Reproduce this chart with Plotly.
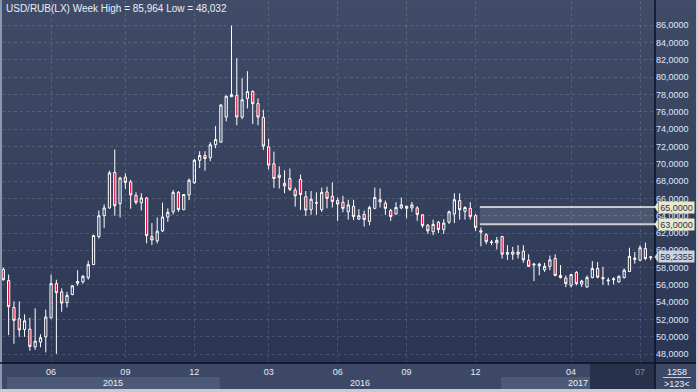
import plotly.graph_objects as go

# ---------------- data (weekly USD/RUB candles) ----------------
opens = [
    57.8, 56.5, 53.4, 52.1, 50.85, 50.9, 48.85, 49.4, 50.0, 52.2,
    56.15, 55.2, 53.95, 54.9, 56.2, 56.35, 56.85, 58.35, 61.6, 64.0,
    64.9, 69.0, 65.4, 68.45, 67.9, 66.35, 65.5, 66.05, 61.6, 61.1,
    62.25, 63.85, 64.45, 66.7, 64.7, 66.4, 67.8, 70.4, 70.95, 70.7,
    72.2, 72.5, 75.4, 77.75, 77.9, 75.4, 77.55, 78.35, 76.95, 75.35,
    71.95, 70.0, 68.7, 67.75, 68.3, 66.95, 68.2, 66.2, 64.7, 65.45,
    64.7, 66.75, 66.25, 65.75, 65.55, 64.45, 65.1, 63.6, 64.15, 63.35,
    64.85, 65.85, 65.45, 64.6, 64.2, 64.9, 65.1, 64.9, 64.9, 64.1,
    62.9, 62.15, 63.25, 62.4, 63.25, 64.2, 65.75, 64.5, 64.85, 64.0,
    62.1, 61.8, 60.9, 60.85, 61.6, 59.55, 59.55, 59.55, 59.9, 58.85,
    58.3, 58.2, 57.75, 58.15, 59.05, 57.1, 56.8, 55.95, 57.45, 56.1,
    55.75, 56.85, 57.9, 56.7, 56.45, 56.6, 56.35, 56.85, 57.55, 58.95,
    58.85, 60.2, 59.15,
]
highs = [
    58.0, 57.2, 54.1, 54.1, 52.6, 52.2, 53.3, 50.3, 53.15, 57.2,
    56.6, 55.6, 55.2, 56.0, 57.7, 57.15, 58.8, 61.8, 64.6, 65.3,
    69.2, 71.65, 68.5, 68.9, 68.15, 66.7, 66.6, 66.15, 63.15, 63.8,
    65.5, 64.85, 66.96, 66.85, 66.5, 68.3, 70.55, 71.45, 71.45, 72.5,
    74.35, 76.85, 77.9, 85.964, 82.2, 79.9, 80.7, 78.5, 77.55, 76.25,
    72.9, 71.4, 69.7, 69.25, 69.45, 67.25, 68.75, 66.85, 66.85, 66.7,
    67.25, 67.35, 67.85, 66.1, 66.3, 65.85, 65.85, 64.75, 64.6, 65.15,
    67.25, 67.15, 65.75, 64.8, 65.55, 66.1, 65.15, 65.6, 65.1, 64.2,
    63.05, 63.55, 63.4, 63.6, 64.6, 66.6, 66.6, 65.1, 65.55, 64.2,
    62.65, 62.0, 61.2, 61.55, 61.65, 60.6, 60.4, 60.6, 60.6, 59.55,
    58.55, 58.55, 58.55, 59.4, 59.55, 58.3, 57.1, 57.25, 57.6, 56.6,
    57.1, 58.75, 58.65, 58.1, 56.85, 56.9, 57.1, 57.9, 60.3, 59.8,
    60.6, 60.9, 59.35,
]
lows = [
    56.5, 50.2, 49.2, 50.0, 50.0, 48.4, 48.5, 48.8, 48.2, 52.1,
    48.032, 52.9, 53.4, 54.8, 55.9, 56.15, 56.6, 58.3, 61.35, 62.6,
    64.8, 64.0, 63.8, 67.1, 64.8, 65.3, 64.6, 60.8, 60.6, 60.8,
    62.1, 63.3, 64.15, 64.45, 64.65, 65.8, 67.7, 69.5, 69.2, 70.3,
    71.8, 72.45, 74.9, 77.7, 74.45, 75.15, 76.4, 74.6, 74.45, 71.6,
    69.35, 67.2, 67.15, 66.6, 66.85, 65.05, 64.65, 63.95, 64.1, 64.1,
    64.45, 64.85, 64.95, 63.4, 64.4, 63.55, 63.5, 63.5, 62.75, 62.9,
    64.75, 64.95, 64.1, 63.4, 64.1, 64.75, 63.7, 64.45, 63.4, 62.6,
    61.9, 61.75, 62.0, 61.9, 63.05, 63.15, 63.55, 63.55, 63.55, 62.25,
    60.45, 60.7, 60.6, 60.1, 59.05, 58.9, 58.9, 59.05, 58.55, 58.1,
    56.45, 57.1, 57.5, 57.7, 57.0, 56.75, 55.75, 55.7, 55.95, 55.75,
    55.7, 56.75, 56.75, 56.0, 55.95, 56.05, 56.25, 56.75, 57.5, 58.45,
    58.75, 58.85, 58.85,
]
closes = [
    56.6, 53.5, 51.9, 50.8, 51.85, 48.9, 49.5, 49.9, 52.3, 56.15,
    55.1, 53.9, 54.8, 55.9, 56.4, 57.0, 58.35, 61.7, 64.0, 64.9,
    68.95, 65.15, 68.35, 67.85, 66.4, 65.55, 66.05, 61.7, 61.2, 62.2,
    63.85, 64.4, 66.7, 64.7, 66.45, 68.1, 70.4, 70.95, 70.6, 72.2,
    72.8, 76.8, 77.8, 78.0, 75.4, 77.4, 78.35, 76.95, 75.4, 72.05,
    69.85, 68.3, 68.4, 67.45, 67.05, 66.3, 66.45, 64.65, 65.9, 65.5,
    66.7, 66.0, 65.65, 65.35, 64.85, 65.25, 63.9, 64.0, 63.55, 64.95,
    66.1, 65.6, 64.85, 63.9, 64.95, 65.25, 64.85, 65.25, 64.15, 62.85,
    62.25, 63.0, 62.4, 63.15, 64.45, 65.85, 64.7, 64.95, 63.9, 62.65,
    62.25, 61.0, 60.95, 61.15, 59.55, 59.75, 59.8, 59.8, 58.9, 58.15,
    58.4, 58.4, 58.15, 58.9, 57.1, 56.85, 56.15, 57.2, 56.15, 56.45,
    56.85, 57.9, 56.9, 56.85, 56.55, 56.7, 57.0, 57.7, 59.3, 59.1,
    60.3, 59.05, 59.2355,
]
weeks = list(range(1, len(closes) + 1))          # bar index (week number)

tick_weeks = [10, 24, 37, 51, 64, 77, 90, 108, 121]
tick_labels = ['06', '09', '12', '03', '06', '09', '12', '04', '07']
year_labels = ['2015', '2016', '2017']
year_bounds = [1.7, 41.8, 94.8, 124.0]            # in week units
price_ticks = list(range(48, 88, 2))
level_high, level_low, level_start = 65.0, 63.0, 90.8
last_price = closes[-1]
counter_top, counter_bottom = '1258', '>123<'

# ---------------- layout geometry ----------------
W, H = 698, 392
ML, MR, MT, MB = 2, 43, 1, 29
PW, PH = W - ML - MR, H - MT - MB
X_RANGE = [0.75, 123.81]
Y_RANGE = [46.98, 88.81]


def px_x(p):
    return (p - ML) / PW


def px_y(p):
    return (H - MB - p) / PH


def fmt(v, d=4):
    return f"{v:.{d}f}".replace('.', ',')


FONT = 'Liberation Sans, Arial, sans-serif'
LABEL_COLOR = '#dfe8f6'

fig = go.Figure()
fig.add_trace(go.Candlestick(
    x=weeks, open=opens, high=highs, low=lows, close=closes,
    increasing=dict(line=dict(color='#ffffff', width=1), fillcolor='rgba(0,0,0,0)'),
    decreasing=dict(line=dict(color='#ffffff', width=1), fillcolor='#e0143c'),
    whiskerwidth=0, hoverinfo='skip', showlegend=False,
))

shapes = []
# vertical gradient background (plot + right price panel)
top_c, bot_c = (64, 76, 103), (43, 54, 84)
N = 60
for i in range(N):
    t = i / (N - 1)
    c = tuple(round(top_c[k] + (bot_c[k] - top_c[k]) * t) for k in range(3))
    y0p = 363 * i / N
    y1p = 363 * (i + 1) / N
    shapes.append(dict(type='rect', xref='paper', yref='paper', layer='below',
                       x0=px_x(0), x1=px_x(W), y0=px_y(y1p + 0.5), y1=px_y(y0p),
                       fillcolor='rgb(%d,%d,%d)' % c, line=dict(width=0)))

# year bands in the bottom strip
for i in range(len(year_labels)):
    if i % 2 == 0:
        shapes.append(dict(type='rect', xref='x', yref='paper', layer='below',
                           x0=year_bounds[i], x1=year_bounds[i + 1],
                           y0=px_y(389), y1=px_y(377),
                           fillcolor='#4d5a77', line=dict(width=0)))
# dark scroll window at the right end of the time strip
shapes.append(dict(type='rect', xref='x', yref='paper', layer='below',
                   x0=111.55, x1=124.5, y0=px_y(389), y1=px_y(364),
                   fillcolor='#28314b', line=dict(width=0)))

# borders
shapes.append(dict(type='rect', xref='paper', yref='paper', layer='above',
                   x0=px_x(0), x1=px_x(2), y0=px_y(H), y1=px_y(0),
                   fillcolor='#8d97ab', line=dict(width=0)))
shapes.append(dict(type='rect', xref='paper', yref='paper', layer='above',
                   x0=px_x(0), x1=px_x(W), y0=px_y(H), y1=px_y(389),
                   fillcolor='#c6cbd3', line=dict(width=0)))
shapes.append(dict(type='rect', xref='paper', yref='paper', layer='above',
                   x0=px_x(696), x1=px_x(W), y0=px_y(H), y1=px_y(0),
                   fillcolor='#c6cbd3', line=dict(width=0)))

# separator lines
shapes.append(dict(type='line', xref='paper', yref='paper', layer='above',
                   x0=px_x(0), x1=px_x(696), y0=0, y1=0,
                   line=dict(color='#0d1220', width=1.5)))
shapes.append(dict(type='line', xref='paper', yref='paper', layer='above',
                   x0=1, x1=1, y0=px_y(389), y1=px_y(0),
                   line=dict(color='#0d1220', width=1.5)))
shapes.append(dict(type='line', xref='paper', yref='paper', layer='above',
                   x0=px_x(663), x1=px_x(691), y0=px_y(377.5), y1=px_y(377.5),
                   line=dict(color='#c9d2e2', width=1)))

# horizontal level zone 63-65
shapes.append(dict(type='rect', xref='x', yref='y', layer='below',
                   x0=level_start, x1=X_RANGE[1], y0=level_low, y1=level_high,
                   fillcolor='rgba(255,255,255,0.13)', line=dict(width=0)))
shapes.append(dict(type='line', xref='x', yref='y', layer='above',
                   x0=level_start, x1=X_RANGE[1], y0=level_high, y1=level_high,
                   line=dict(color='#f2f2f2', width=1.5)))
shapes.append(dict(type='line', xref='x', yref='y', layer='above',
                   x0=level_start, x1=X_RANGE[1], y0=level_low, y1=level_low,
                   line=dict(color='#cfcfcf', width=2)))

# price tags on the right scale
ppu = PH / (Y_RANGE[1] - Y_RANGE[0])
half = 5.5 / ppu
annotations = []
for lvl, bg in [(level_high, '#ebe8ca'), (level_low, '#ebe8ca'), (last_price, '#ccd3de')]:
    shapes.append(dict(type='path', xref='paper', yref='y', layer='above',
                       path='M %f,%f L %f,%f L %f,%f Z' % (px_x(654.5), lvl, px_x(658), lvl + half,
                                                           px_x(658), lvl - half),
                       fillcolor=bg, line=dict(width=0)))
    annotations.append(dict(xref='paper', yref='y', x=px_x(657.5), y=lvl,
                            xanchor='left', yanchor='middle', text=fmt(lvl),
                            showarrow=False, bgcolor=bg, borderpad=0, width=35,
                            height=11, align='center',
                            font=dict(family=FONT, size=9, color='#27324d')))

# title
annotations.append(dict(xref='paper', yref='paper', x=px_x(4), y=px_y(8.5),
                        xanchor='left', yanchor='middle', showarrow=False,
                        text='USD/RUB(LX) Week High = %s Low = %s' % (fmt(max(highs), 3), fmt(min(lows), 3)),
                        font=dict(family=FONT, size=10, color='#e8eef8')))
# year labels
for i, lab in enumerate(year_labels):
    annotations.append(dict(xref='x', yref='paper',
                            x=(year_bounds[i] + min(year_bounds[i + 1], X_RANGE[1])) / 2,
                            y=px_y(382.5), xanchor='center', yanchor='middle',
                            showarrow=False, text=lab,
                            font=dict(family=FONT, size=9, color='#e8eef8')))
# counter box
annotations.append(dict(xref='paper', yref='paper', x=px_x(677), y=px_y(371.5),
                        xanchor='center', yanchor='middle', showarrow=False,
                        text=counter_top, font=dict(family=FONT, size=9, color='#eef2f8')))
annotations.append(dict(xref='paper', yref='paper', x=px_x(677), y=px_y(384),
                        xanchor='center', yanchor='middle', showarrow=False,
                        text=counter_bottom, font=dict(family=FONT, size=9, color='#eef2f8')))

tick_text = [("<span style='color:#7f8aa0'>%s</span>" % t) if w > 111.55 else t
             for w, t in zip(tick_weeks, tick_labels)]

grid_color = 'rgba(255,255,255,0.14)'
fig.update_layout(
    width=W, height=H, autosize=False,
    margin=dict(l=ML, r=MR, t=MT, b=MB, pad=0),
    paper_bgcolor='#3c4866', plot_bgcolor='rgba(0,0,0,0)',
    showlegend=False, hovermode=False,
    boxgap=0.4,
    shapes=shapes, annotations=annotations,
    xaxis=dict(range=X_RANGE, tickvals=tick_weeks, ticktext=tick_text,
               showgrid=True, gridcolor=grid_color, griddash='3px,3px', gridwidth=1,
               zeroline=False, showline=False, ticks='', fixedrange=True,
               rangeslider=dict(visible=False), ticklabelstandoff=2,
               tickfont=dict(family=FONT, size=9, color='#e4eaf4')),
    yaxis=dict(range=Y_RANGE, side='right', tickvals=price_ticks,
               ticktext=[fmt(v) for v in price_ticks],
               showgrid=True, gridcolor=grid_color, griddash='3px,3px', gridwidth=1,
               zeroline=False, showline=False, ticks='', fixedrange=True,
               tickfont=dict(family=FONT, size=9, color=LABEL_COLOR)),
)

fig.write_html("out.html", config={'displayModeBar': False},
               post_script="document.body.style.margin='0px';document.body.style.overflow='hidden';")
